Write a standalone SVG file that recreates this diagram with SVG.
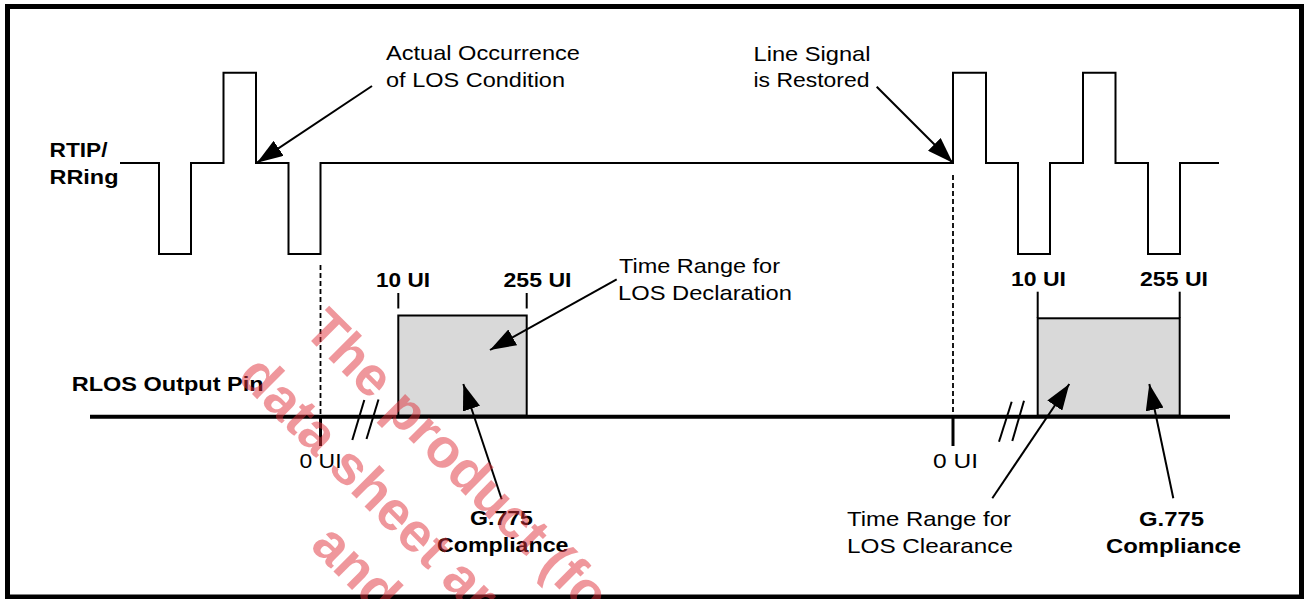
<svg xmlns="http://www.w3.org/2000/svg" width="1304" height="599" viewBox="0 0 1304 599">
<style>
  .t { font-family: "Liberation Sans", Arial, Helvetica, sans-serif; font-size: 21px; fill: #000; }
  .b { font-family: "Liberation Sans", Arial, Helvetica, sans-serif; font-size: 20.5px; font-weight: bold; fill: #000; }
  .wave { fill: none; stroke: #000; stroke-width: 2; stroke-linejoin: miter; }
  .dash { stroke: #000; stroke-width: 1.8; stroke-dasharray: 5 3; fill: none; }
  .tick { stroke: #000; stroke-width: 2; }
  .tick0 { stroke: #000; stroke-width: 3; }
  .brk { stroke: #000; stroke-width: 2; }
  .box { fill: #d9d9d9; stroke: #000; stroke-width: 2; }
  .arr { stroke: #000; stroke-width: 2; fill: none; marker-end: url(#ah); }
  .wm { font-family: "Liberation Sans", Arial, sans-serif; font-size: 55px; font-weight: bold; fill: #e0303a; fill-opacity: 0.5; }
</style>
<defs>
  <marker id="ah" markerUnits="userSpaceOnUse" markerWidth="27" markerHeight="18" refX="26" refY="9" orient="auto">
    <path d="M0,0 L26,9 L0,18 z" fill="#000"/>
  </marker>
</defs>
<rect width="1304" height="599" fill="#fff"/>
<rect id="frame" x="7.5" y="6.5" width="1294" height="590.5" fill="none" stroke="#000" stroke-width="5"/>

<g id="rtip-signal">
  <path class="wave" d="M120,163 H159 V254 H191 V163 H223.5 V72.7 H256 V163 H288.5 V254 H320.5 V163 H953 V72.7 H986 V163 H1018 V254 H1050 V163 H1083 V72.7 H1115.5 V163 H1148 V254 H1180 V163 H1219"/>
  <text class="b" x="49.5" y="157.3" textLength="58" lengthAdjust="spacingAndGlyphs">RTIP/</text>
  <text class="b" x="49.5" y="184" textLength="69" lengthAdjust="spacingAndGlyphs">RRing</text>
</g>

<g id="rlos-output">
  <line x1="90" y1="416.7" x2="1230" y2="416.7" stroke="#000" stroke-width="4"/>
  <text class="b" x="71.7" y="390.7" textLength="192" lengthAdjust="spacingAndGlyphs">RLOS Output Pin</text>
</g>

<g id="zero-ui-left">
  <line class="dash" x1="320.5" y1="265" x2="320.5" y2="415"/>
  <line class="tick0" x1="320.5" y1="417" x2="320.5" y2="446"/>
  <text class="t" x="299.5" y="467.5" textLength="42" lengthAdjust="spacingAndGlyphs">0 UI</text>
</g>

<g id="zero-ui-right">
  <line class="dash" x1="953" y1="175" x2="953" y2="415"/>
  <line class="tick0" x1="953" y1="417" x2="953" y2="446"/>
  <text class="t" x="933" y="467.5" textLength="45" lengthAdjust="spacingAndGlyphs">0 UI</text>
</g>

<g id="break-left">
  <line class="brk" x1="352.3" y1="440" x2="364.3" y2="400"/>
  <line class="brk" x1="366.5" y1="439" x2="378.5" y2="399.5"/>
</g>
<g id="break-right">
  <line class="brk" x1="999" y1="441.7" x2="1011.7" y2="401.7"/>
  <line class="brk" x1="1012.3" y1="441" x2="1024" y2="400.7"/>
</g>

<g id="declaration-window">
  <rect class="box" x="398.3" y="315.5" width="128.4" height="100"/>
  <line class="tick" x1="398.3" y1="293" x2="398.3" y2="308.5"/>
  <line class="tick" x1="526.7" y1="293" x2="526.7" y2="308.5"/>
  <text class="b" x="376" y="286.5" textLength="54" lengthAdjust="spacingAndGlyphs">10 UI</text>
  <text class="b" x="503.5" y="286.5" textLength="68" lengthAdjust="spacingAndGlyphs">255 UI</text>
</g>

<g id="clearance-window">
  <rect class="box" x="1037.7" y="318.3" width="142" height="97.2"/>
  <line class="tick" x1="1037.7" y1="291.7" x2="1037.7" y2="318"/>
  <line class="tick" x1="1179.7" y1="291.7" x2="1179.7" y2="318"/>
  <text class="b" x="1011" y="285.7" textLength="55" lengthAdjust="spacingAndGlyphs">10 UI</text>
  <text class="b" x="1140" y="285.7" textLength="68" lengthAdjust="spacingAndGlyphs">255 UI</text>
</g>

<g id="label-actual-occurrence">
  <text class="t" x="386" y="60" textLength="194" lengthAdjust="spacingAndGlyphs">Actual Occurrence</text>
  <text class="t" x="386" y="86.5" textLength="179" lengthAdjust="spacingAndGlyphs">of LOS Condition</text>
</g>

<g id="label-line-restored">
  <text class="t" x="753.5" y="60.5" textLength="117" lengthAdjust="spacingAndGlyphs">Line Signal</text>
  <text class="t" x="753.5" y="87" textLength="116" lengthAdjust="spacingAndGlyphs">is Restored</text>
</g>

<g id="label-los-declaration">
  <text class="t" x="619" y="272.5" textLength="161" lengthAdjust="spacingAndGlyphs">Time Range for</text>
  <text class="t" x="618" y="300" textLength="174" lengthAdjust="spacingAndGlyphs">LOS Declaration</text>
</g>

<g id="label-g775-left">
  <text class="b" x="470" y="524.5" textLength="63" lengthAdjust="spacingAndGlyphs">G.775</text>
  <text class="b" x="437" y="552" textLength="131.5" lengthAdjust="spacingAndGlyphs">Compliance</text>
</g>

<g id="label-los-clearance">
  <text class="t" x="847" y="526" textLength="164" lengthAdjust="spacingAndGlyphs">Time Range for</text>
  <text class="t" x="847" y="552.5" textLength="166" lengthAdjust="spacingAndGlyphs">LOS Clearance</text>
</g>

<g id="label-g775-right">
  <text class="b" x="1139" y="526" textLength="65" lengthAdjust="spacingAndGlyphs">G.775</text>
  <text class="b" x="1106" y="553" textLength="135" lengthAdjust="spacingAndGlyphs">Compliance</text>
</g>

<g id="connectors">
  <line class="arr" x1="372" y1="86" x2="257" y2="162.7"/>
  <line class="arr" x1="876.7" y1="86.7" x2="952.7" y2="162.7"/>
  <line class="arr" x1="616.7" y1="279.3" x2="490" y2="350"/>
  <line class="arr" x1="501.7" y1="499.3" x2="463.3" y2="384"/>
  <line class="arr" x1="992.3" y1="498.3" x2="1069.3" y2="384"/>
  <line class="arr" x1="1173.3" y1="498.3" x2="1149.3" y2="384"/>
</g>

<g id="watermark">
  <text class="wm" transform="translate(302,332) rotate(45)">The product (for</text>
  <text class="wm" transform="translate(236,378) rotate(45)">data sheet are</text>
  <text class="wm" transform="translate(309,547) rotate(45)">and</text>
</g>
</svg>
